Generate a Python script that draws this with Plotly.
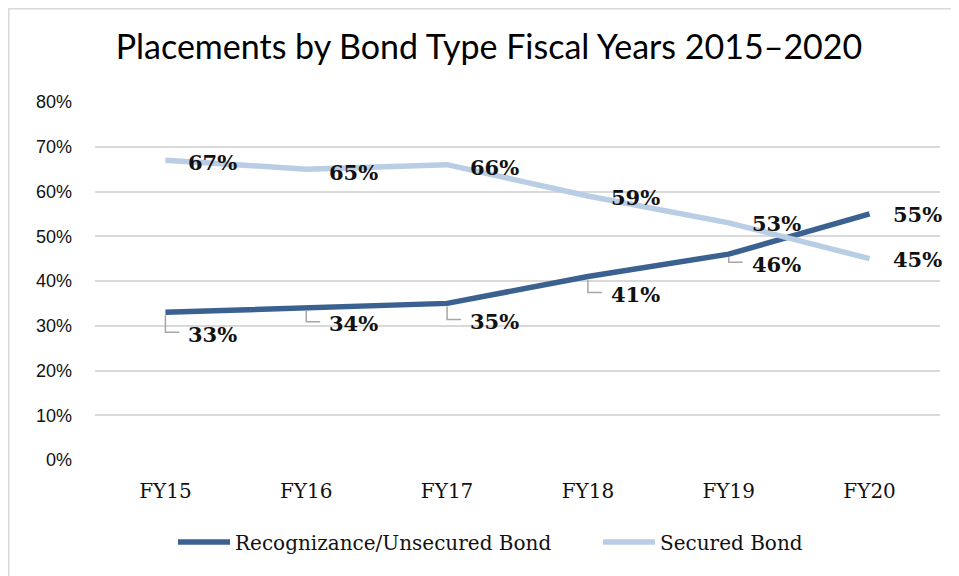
import plotly.graph_objects as go

categories = ["FY15", "FY16", "FY17", "FY18", "FY19", "FY20"]
recognizance = [0.33, 0.34, 0.35, 0.41, 0.46, 0.55]
secured = [0.67, 0.65, 0.66, 0.59, 0.53, 0.45]
y_ticks = [0, 0.1, 0.2, 0.3, 0.4, 0.5, 0.6, 0.7, 0.8]

DARK = "#3A6190"
LIGHT = "#B9CDE5"
GRID = "#D9D9D9"
SERIF = "DejaVu Serif"

# label pixel drop (style) for the labels
rec_label_drop = [22, 16, 18, 18, 10, 1]
sec_label_drop = [2, 3, 3, 2, 1, 1]

W, H = 951, 568  # page has an 8px body margin

fig = go.Figure()
fig.add_trace(go.Scatter(x=categories, y=recognizance, mode="lines",
                         name="Recognizance/Unsecured Bond", legend="legend",
                         line=dict(color=DARK, width=5.5)))
fig.add_trace(go.Scatter(x=categories, y=secured, mode="lines",
                         name="Secured Bond", legend="legend2",
                         line=dict(color=LIGHT, width=5.5)))

annotations = []
shapes = []
for c, v, d in zip(categories, secured, sec_label_drop):
    annotations.append(dict(x=c, y=v, xref="x", yref="y", text=f"<b>{round(v*100)}%</b>",
                            showarrow=False, xanchor="left", yanchor="middle",
                            xshift=21, yshift=-d,
                            font=dict(family=SERIF, size=21, color="#111111")))
for c, v, d in zip(categories, recognizance, rec_label_drop):
    annotations.append(dict(x=c, y=v, xref="x", yref="y", text=f"<b>{round(v*100)}%</b>",
                            showarrow=False, xanchor="left", yanchor="middle",
                            xshift=21, yshift=-d,
                            font=dict(family=SERIF, size=21, color="#111111")))
    if d > 5:
        shapes.append(dict(type="path", xref="x", yref="y",
                           xsizemode="pixel", ysizemode="pixel",
                           xanchor=c, yanchor=v,
                           path=f"M 0 -3 L 0 {-d+2} L 14 {-d+2}",
                           line=dict(color="#A6A6A6", width=1.5)))

# chart border
shapes.append(dict(type="rect", xref="paper", yref="paper",
                   x0=-0.102, x1=1.2, y0=-0.6, y1=1.2605,
                   line=dict(color=GRID, width=1.5), layer="below"))

legend_style = dict(orientation="h", xref="container", yref="container",
                    xanchor="left", y=1 - 534 / H, yanchor="middle",
                    font=dict(family=SERIF, size=20, color="#111111"),
                    itemwidth=52, bgcolor="rgba(0,0,0,0)")

fig.update_layout(
    width=W, height=H,
    margin=dict(l=87, r=19, t=94, b=116),
    paper_bgcolor="white", plot_bgcolor="white",
    title=dict(text="Placements by Bond Type Fiscal Years 2015–2020",
               font=dict(family="Lato", size=34, color="#000000"),
               x=481 / W, xref="container", xanchor="center",
               y=1 - 39 / H, yref="container", yanchor="middle"),
    xaxis=dict(type="category", range=[-0.5, 5.5], showgrid=False, showline=False,
               zeroline=False, ticks="", ticklabelstandoff=17,
               tickfont=dict(family=SERIF, size=20, color="#111111")),
    yaxis=dict(range=[0, 0.8], tickvals=y_ticks, tickformat=".0%",
               showgrid=True, gridcolor=GRID, gridwidth=1.5, zeroline=False,
               showline=False, ticks="", ticklabelstandoff=22,
               tickfont=dict(family="Liberation Sans", size=18, color="#111111")),
    showlegend=True,
    legend=dict(legend_style, x=165 / W),
    legend2=dict(legend_style, x=590 / W),
    annotations=annotations,
    shapes=shapes,
)

fig.write_html("out.html")
